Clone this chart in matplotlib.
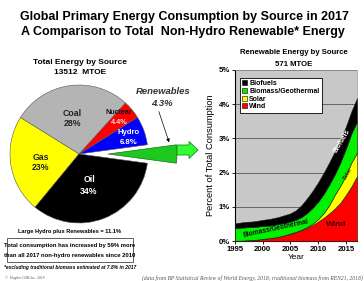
import numpy as np
import matplotlib
matplotlib.use('Agg')
from matplotlib import pyplot as plt
from matplotlib.patches import Patch, Rectangle, FancyArrow

plt.rcParams['font.family'] = ['Liberation Sans', 'DejaVu Sans']
plt.rcParams['font.weight'] = 'bold'

# pie data (percent of total primary energy 2017)
pie_labels = ['Renewables', 'Hydro', 'Nuclear', 'Coal', 'Gas', 'Oil']
pie_values = [4.3, 6.8, 4.4, 28, 23, 34]
pie_colors = ['#1ec81e', '#0000ff', '#ff0000', '#b4b4b4', '#ffff00', '#000000']

# renewables by source, percent of total consumption (top of each layer)
years = list(range(1995, 2018))
wind_top = [0.01, 0.01, 0.02, 0.03, 0.04, 0.06, 0.08, 0.10, 0.13, 0.17, 0.21, 0.26,
            0.32, 0.39, 0.47, 0.57, 0.68, 0.81, 0.95, 1.12, 1.35, 1.60, 1.90]
solar_top = [0.01, 0.01, 0.02, 0.03, 0.04, 0.06, 0.08, 0.10, 0.13, 0.17, 0.22, 0.27,
             0.33, 0.41, 0.51, 0.64, 0.82, 1.05, 1.35, 1.62, 1.92, 2.30, 2.58]
biomass_top = [0.38, 0.39, 0.40, 0.41, 0.42, 0.44, 0.45, 0.47, 0.50, 0.53, 0.57, 0.62,
               0.70, 0.82, 0.97, 1.15, 1.38, 1.65, 1.95, 2.30, 2.70, 3.15, 3.49]
biofuels_top = [0.52, 0.54, 0.56, 0.57, 0.59, 0.62, 0.64, 0.67, 0.71, 0.76, 0.81, 0.90,
                1.05, 1.25, 1.47, 1.72, 2.00, 2.30, 2.62, 2.95, 3.35, 3.80, 4.18]
area_names = ['Wind', 'Solar', 'Biomass/Geothermal', 'Biofuels']
area_colors = ['#ff0000', '#ffff00', '#00f000', '#000000']
yticks = [0, 1, 2, 3, 4, 5]
xticks = [1995, 2000, 2005, 2010, 2015]

W, H = 364, 281
fig = plt.figure(figsize=(W / 100, H / 100), dpi=100)

# overlay axes in pixel coords (y from top)
ov = fig.add_axes([0, 0, 1, 1], zorder=5)
ov.set_xlim(0, W)
ov.set_ylim(H, 0)
ov.set_axis_off()
ov.patch.set_alpha(0)

# ---- pie ----
cx, cy, R = 79, 154, 69
half = 100
ap = fig.add_axes([(cx - half) / W, (H - cy - half) / H, 2 * half / W, 2 * half / H])
ap.pie(pie_values, colors=pie_colors, startangle=-4.3 / sum(pie_values) * 180,
       explode=[0.42, 0, 0, 0, 0, 0], counterclock=True,
       wedgeprops=dict(linewidth=0.4, edgecolor='#555555'))
ap.patches[0].set_edgecolor('#0a5a0a')
ap.set_xlim(-half / R, half / R)
ap.set_ylim(-half / R, half / R)
ap.set_aspect('auto')
ap.set_axis_off()

def t(x, y, s, size, **kw):
    ov.text(x, y, s, fontsize=size, ha=kw.pop('ha', 'center'), va=kw.pop('va', 'center'), **kw)

t(184, 17, 'Global Primary Energy Consumption by Source in 2017', 9.0)
t(183, 32, 'A Comparison to Total  Non-Hydro Renewable* Energy', 9.0)
t(80, 62, 'Total Energy by Source', 6.0)
t(80, 73, '13512  MTOE', 6.0)
t(72, 113, 'Coal', 6.3, color='#222222')
t(72, 124, '28%', 6.3, color='#222222')
t(41, 157, 'Gas', 6.3, color='#222222')
t(41, 168, '23%', 6.3, color='#222222')
t(89, 180, 'Oil', 6.3, color='white')
t(89, 191, '34%', 6.3, color='white')
t(119, 113, 'Nuclear', 5.2, color='#111111')
t(119, 122, '4.4%', 5.2, color='#ffdddd')
t(129, 133, 'Hydro', 5.6, color='white')
t(129, 142, '6.8%', 5.6, color='white')
t(163, 92, 'Renewables', 6.8, color='#333333', style='italic')
t(162, 104, '4.3%', 6.8, color='#333333', style='italic')
ov.annotate('', xy=(170, 145), xytext=(158, 109),
            arrowprops=dict(arrowstyle='-|>', color='black', lw=0.5, mutation_scale=5))
ov.add_patch(FancyArrow(177, 150, 21, 0, width=10, head_width=17, head_length=9,
                        length_includes_head=True, facecolor='#33ff33', edgecolor='#1a8a1a', lw=0.6))

t(70, 232, 'Large Hydro plus Renewables = 11.1%', 4.1)
ov.add_patch(Rectangle((7, 238), 126, 24, facecolor='white', edgecolor='#444444', lw=0.6))
t(70, 245, 'Total consumption has increased by 59% more', 4.2)
t(70, 256, 'than all 2017 non-hydro renewables since 2010', 4.2)
t(70, 268, '*excluding traditional biomass estimated at 7.8% in 2017', 3.55, style='italic')
t(5, 278, '\u00a9  Hughes GSR Inc. 2019', 2.7, ha='left', family='Liberation Serif',
  style='italic', weight='normal', color='#555555')
t(363, 278, '(data from BP Statistical Review of World Energy, 2018; traditional biomass from REN21, 2018)',
  4.1, ha='right', family='Liberation Serif', style='italic', weight='normal', color='#555555')

t(294, 53, 'Renewable Energy by Source', 5.6)
t(294, 65, '571 MTOE', 5.6)

# ---- stacked area ----
x0, x1, y0, y1 = 235, 357, 241, 70
ax = fig.add_axes([x0 / W, (H - y0) / H, (x1 - x0) / W, (y0 - y1) / H])
wind = np.array(wind_top)
solar = np.array(solar_top) - wind
biomass = np.array(biomass_top) - np.array(solar_top)
biofuels = np.array(biofuels_top) - np.array(biomass_top)
ax.stackplot(years, wind, solar, biomass, biofuels, colors=area_colors,
             edgecolor='#222222', linewidth=0.4, zorder=3)
ax.set_facecolor('#c8c8c8')
ax.set_xlim(1995, 2017)
ax.set_ylim(0, 5)
ax.set_yticks(yticks)
ax.set_yticklabels([f'{v}%' for v in yticks])
ax.set_xticks(xticks)
ax.tick_params(labelsize=5.6, length=2, width=0.6, pad=1.5)
ax.grid(axis='y', color='#555555', lw=0.6, zorder=1)
for s in ['top', 'right']:
    ax.spines[s].set_color('#999999')
    ax.spines[s].set_linewidth(0.5)
for s in ['left', 'bottom']:
    ax.spines[s].set_linewidth(0.8)
ax.set_ylabel('Percent of Total Consumption', fontsize=6.7, labelpad=3)
ax.set_xlabel('Year', fontsize=6.0, labelpad=1)

handles = [Patch(facecolor=c, edgecolor='black', lw=0.4, label=n)
           for n, c in zip(area_names[::-1], area_colors[::-1])]
lg = ax.legend(handles=handles, loc='upper left', bbox_to_anchor=(0.04, 0.955),
               fontsize=5.0, frameon=True, fancybox=False, framealpha=1,
               handlelength=0.7, handleheight=0.7, handletextpad=0.3,
               labelspacing=0.1, borderpad=0.35, borderaxespad=0)
lg.get_frame().set_edgecolor('black')
lg.get_frame().set_linewidth(0.6)
lg.set_zorder(6)

ax.text(2014.2, 2.93, 'Biofuels', fontsize=4.8, color='white', rotation=59,
        ha='center', va='center', zorder=5)
ax.text(2015.4, 1.98, 'Solar', fontsize=3.8, color='#333300', rotation=60,
        ha='center', va='center', zorder=5)
ax.text(2002.3, 0.36, 'Biomass/Geothermal', fontsize=4.8, color='#111111', rotation=12,
        ha='center', va='center', zorder=5)
ax.text(2013.2, 0.47, 'Wind', fontsize=6.0, color='#400000',
        ha='center', va='center', zorder=5)

fig.savefig('out.png', dpi=100)
